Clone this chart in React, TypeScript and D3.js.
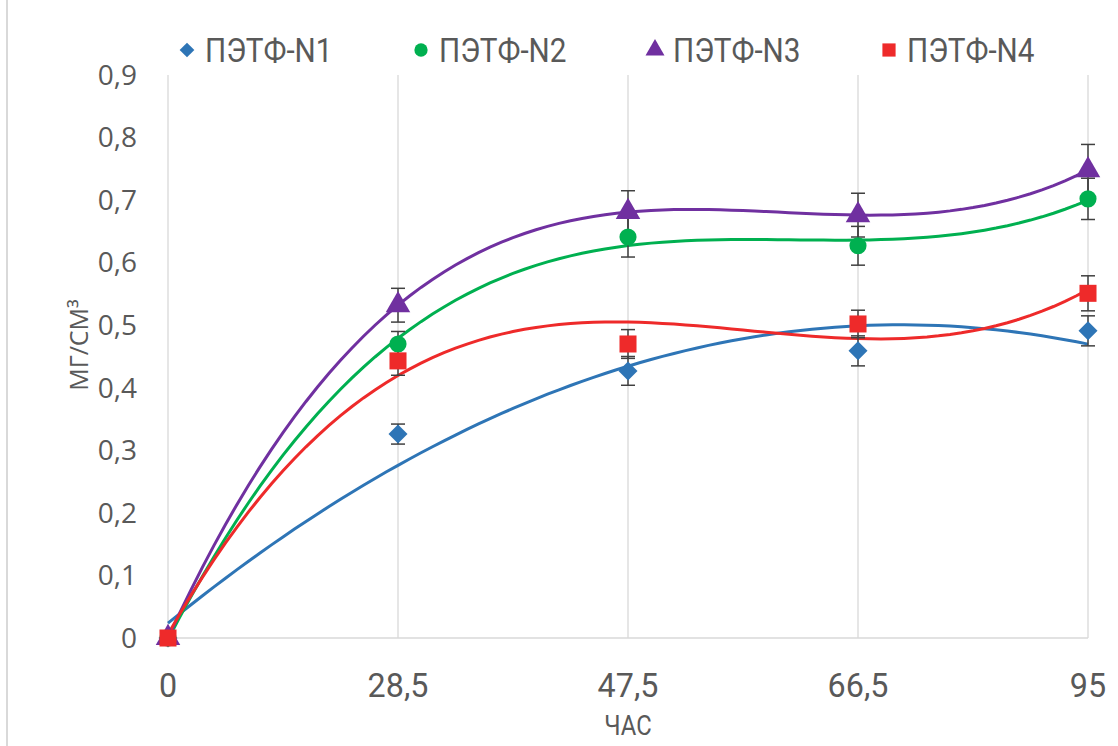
import React from 'react';
import * as d3 from 'd3';

const categories = ['0', '28,5', '47,5', '66,5', '95'];
const seriesNames = ['ПЭТФ-N1', 'ПЭТФ-N2', 'ПЭТФ-N3', 'ПЭТФ-N4'];
const n1 = [0, 0.326, 0.427, 0.459, 0.491];
const n2 = [0, 0.47, 0.641, 0.627, 0.702];
const n3 = [0, 0.532, 0.681, 0.676, 0.748];
const n4 = [0, 0.443, 0.47, 0.502, 0.551];
const err1 = [0, 0.016, 0.023, 0.024, 0.024];
const err2 = [0, 0.02, 0.032, 0.031, 0.033];
const err3 = [0, 0.027, 0.034, 0.035, 0.041];
const err4 = [0, 0.023, 0.023, 0.022, 0.028];
const trendOrder = [2, 3, 3, 3];
const yTicks = [0, 0.1, 0.2, 0.3, 0.4, 0.5, 0.6, 0.7, 0.8, 0.9];

const colors = ['#2E75B6', '#00B050', '#7030A0', '#EE2A2A'];
const shapes = [d3.symbolDiamond2, d3.symbolCircle, d3.symbolTriangle, d3.symbolSquare];
const sizes = [230, 230, 260, 290];

// least squares polynomial fit, x = category index (1..n) like Excel does on a line chart
function polyFit(ys: number[], order: number) {
  const xs = ys.map((_, i) => i + 1);
  const m = order + 1;
  const A: number[][] = [];
  for (let r = 0; r < m; r++) {
    const row: number[] = [];
    for (let c = 0; c < m; c++) row.push(d3.sum(xs, x => Math.pow(x, r + c)));
    row.push(d3.sum(xs, (x, i) => Math.pow(x, r) * ys[i]));
    A.push(row);
  }
  for (let i = 0; i < m; i++) {
    let p = i;
    for (let k = i + 1; k < m; k++) if (Math.abs(A[k][i]) > Math.abs(A[p][i])) p = k;
    [A[i], A[p]] = [A[p], A[i]];
    for (let k = i + 1; k < m; k++) {
      const f = A[k][i] / A[i][i];
      for (let j = i; j <= m; j++) A[k][j] -= f * A[i][j];
    }
  }
  const coef = new Array(m).fill(0);
  for (let i = m - 1; i >= 0; i--) {
    let s = A[i][m];
    for (let j = i + 1; j < m; j++) s -= A[i][j] * coef[j];
    coef[i] = s / A[i][i];
  }
  return (x: number) => coef.reduce((acc, c, i) => acc + c * Math.pow(x, i), 0);
}

const fmt = (v: number) => (v === 0 ? '0' : d3.format('.1f')(v).replace('.', ','));

export default function App() {
  const width = 1118;
  const height = 746;
  const left = 168, right = 1088, top = 75, bottom = 638;

  const x = d3.scalePoint<string>().domain(categories).range([left, right]);
  const xi = d3.scaleLinear().domain([1, categories.length]).range([left, right]);
  const y = d3.scaleLinear().domain([0, 0.9]).range([bottom, top]);

  const values = [n1, n2, n3, n4];
  const errors = [err1, err2, err3, err4];
  const samples = d3.range(1, categories.length + 0.0001, 0.05);
  const line = d3.line<[number, number]>().x(d => xi(d[0])).y(d => y(d[1]));

  const grey = '#595959';
  const cond = 'Roboto, "Liberation Sans", sans-serif';

  return (
    <svg width={width} height={height} style={{ position: 'fixed', left: 0, top: 0, background: '#fff' }}>
      <rect x={0} y={0} width={width} height={height} fill="#fff" />
      <line x1={7} x2={7} y1={0} y2={height} stroke="#d9d9d9" strokeWidth={2} />

      {/* vertical grid */}
      {categories.map(c => (
        <line key={c} x1={x(c)} x2={x(c)} y1={top} y2={bottom} stroke="#d9d9d9" strokeWidth={1.3} />
      ))}
      <line x1={left} x2={right} y1={bottom} y2={bottom} stroke="#d9d9d9" strokeWidth={1.3} />

      {/* y ticks */}
      {yTicks.map(t => (
        <text key={t} x={137} y={y(t)} dy="0.35em" textAnchor="end" fontFamily='"Open Sans", sans-serif' fontSize={28} fill={grey}>
          {fmt(t)}
        </text>
      ))}
      {/* x ticks */}
      {categories.map(c => (
        <text key={c} transform={`translate(${x(c)},${697}) scale(0.95,1)`} textAnchor="middle" fontFamily={cond} fontSize={34} fill={grey}>
          {c}
        </text>
      ))}
      <text transform={`translate(${(left + right) / 2},${735}) scale(0.85,1)`} textAnchor="middle" fontFamily={cond} fontSize={28} fill={grey}>
        ЧАС
      </text>
      <text transform={`translate(${88},${345}) rotate(-90)`} textAnchor="middle" fontFamily='"Open Sans", sans-serif' fontSize={25} fill={grey}>
        МГ/СМ³
      </text>

      {/* trendlines */}
      {values.map((vals, s) => {
        const f = polyFit(vals, trendOrder[s]);
        return (
          <path key={s} d={line(samples.map(t => [t, f(t)]) as [number, number][]) || ''} fill="none" stroke={colors[s]} strokeWidth={3} />
        );
      })}

      {/* error bars */}
      {values.map((vals, s) => (
        <g key={s} stroke="#404040" strokeWidth={1.5}>
          {vals.map((v, i) => {
            const e = errors[s][i];
            if (!e) return null;
            const cx = x(categories[i]) as number;
            return (
              <g key={i}>
                <line x1={cx} x2={cx} y1={y(v - e)} y2={y(v + e)} />
                <line x1={cx - 7} x2={cx + 7} y1={y(v - e)} y2={y(v - e)} />
                <line x1={cx - 7} x2={cx + 7} y1={y(v + e)} y2={y(v + e)} />
              </g>
            );
          })}
        </g>
      ))}

      {/* markers */}
      {values.map((vals, s) => (
        <g key={s}>
          {vals.map((v, i) => (
            <path key={i} transform={`translate(${x(categories[i])},${y(v)})`}
              d={d3.symbol().type(shapes[s]).size(sizes[s])() || ''} fill={colors[s]} />
          ))}
        </g>
      ))}

      {/* legend */}
      {seriesNames.map((name, s) => {
        const lx = 187 + s * 234;
        return (
          <g key={name}>
            <path transform={`translate(${lx},${50})`} d={d3.symbol().type(shapes[s]).size(sizes[s] * 0.6)() || ''} fill={colors[s]} />
            <text transform={`translate(${lx + 18},${62}) scale(0.9,1)`} fontFamily={cond} fontSize={33} fill={grey}>
              {name}
            </text>
          </g>
        );
      })}
    </svg>
  );
}
